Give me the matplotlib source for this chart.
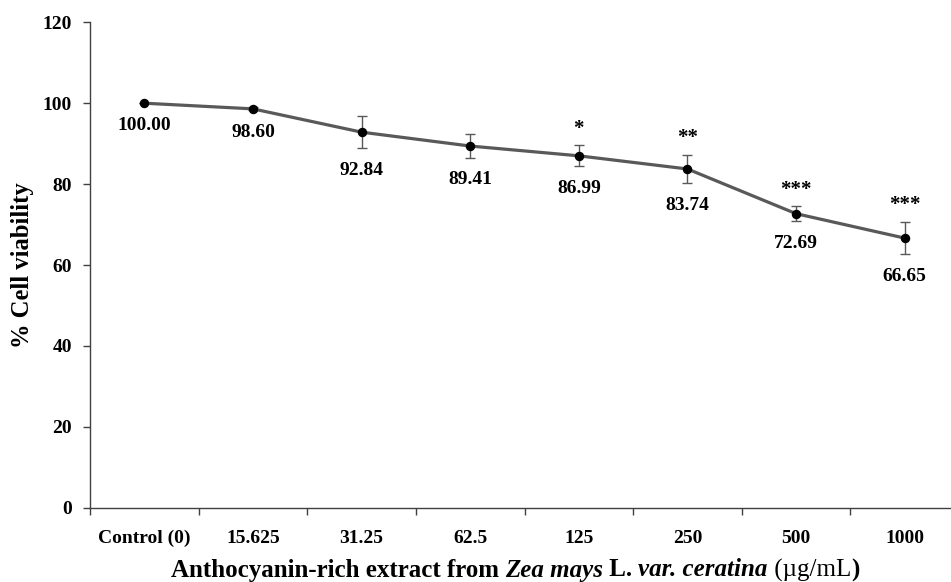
import matplotlib
matplotlib.use("Agg")
import matplotlib.pyplot as plt
import numpy as np

plt.rcParams['font.family'] = ['Liberation Serif', 'DejaVu Serif']

# Data
categories = ["Control (0)", "15.625", "31.25", "62.5", "125", "250", "500", "1000"]
viability = [100.00, 98.60, 92.84, 89.41, 86.99, 83.74, 72.69, 66.65]
sd = [0.0, 0.4, 4.0, 2.9, 2.6, 3.5, 1.8, 4.0]
stars = ["", "", "", "", "*", "**", "***", "***"]

W, H = 951, 582
fig = plt.figure(figsize=(W / 100, H / 100), dpi=100)
# axis runs past the right edge of the picture, as in the original
ax = fig.add_axes([90 / W, (H - 507.7) / H, (959 - 90) / W, (507.7 - 22.3) / H])

x = np.arange(len(categories))
line_col = "#595959"
ax.errorbar(x, viability, yerr=sd, fmt="none", ecolor=line_col, elinewidth=1.0,
            capsize=3.5, capthick=1.0, zorder=2)
ax.plot(x, viability, color=line_col, linewidth=2.3, zorder=3)
ax.plot(x, viability, "o", color="black", markersize=5.8, zorder=4)

for i in range(len(x)):
    ax.annotate(f"{viability[i]:.2f}", (x[i], viability[i] - sd[i]),
                xytext=(0, -16), textcoords="offset points",
                ha="center", va="center", fontsize=14, fontweight="bold")
    if stars[i]:
        ax.annotate(stars[i], (x[i], viability[i] + sd[i]),
                    xytext=(0, 12), textcoords="offset points",
                    ha="center", va="center", fontsize=15, fontweight="bold")

ax.set_xlim(-0.5, len(categories) - 0.5)
ax.set_ylim(0, 120)
ax.set_yticks(np.arange(0, 121, 20))

# ticks at category boundaries, labels at category centres
ax.set_xticks(np.arange(-0.5, len(categories), 1.0))
ax.set_xticklabels([])
ax.set_xticks(x, minor=True)
ax.set_xticklabels(categories, minor=True)
ax.tick_params(axis="x", which="major", direction="out", length=5, width=1, color="#404040")
ax.tick_params(axis="x", which="minor", length=0, pad=16, labelsize=14)
ax.tick_params(axis="y", direction="out", length=5, width=1, color="#404040",
               pad=8, labelsize=14)
for lab in ax.get_xticklabels(minor=True) + ax.get_yticklabels():
    lab.set_fontweight("bold")

for s in ["top", "right"]:
    ax.spines[s].set_visible(False)
for s in ["left", "bottom"]:
    ax.spines[s].set_color("#404040")
    ax.spines[s].set_linewidth(1.0)

fig.text(23 / W, 1 - 265 / H, "% Cell viability", rotation=90, ha="center",
         va="center", fontsize=17.7, fontweight="bold")

# x label made of runs with mixed styles
runs = [("Anthocyanin-rich extract from ", "bold", "normal"),
        ("Zea mays", "bold", "italic"),
        (" L. ", "bold", "normal"),
        ("var. ceratina", "bold", "italic"),
        (" (\u00b5g/mL", "normal", "normal"),
        (")", "bold", "normal")]
renderer = fig.canvas.get_renderer()
texts = []
for s, w, st in runs:
    t = fig.text(0, 1 - 570 / H, s, fontsize=18, fontweight=w, fontstyle=st,
                 ha="left", va="center")
    texts.append(t)
widths = [t.get_window_extent(renderer).width for t in texts]
total = sum(widths)
xpos = 515 - total / 2
for t, w in zip(texts, widths):
    t.set_x(xpos / W)
    xpos += w

fig.savefig("out.png", dpi=100)
